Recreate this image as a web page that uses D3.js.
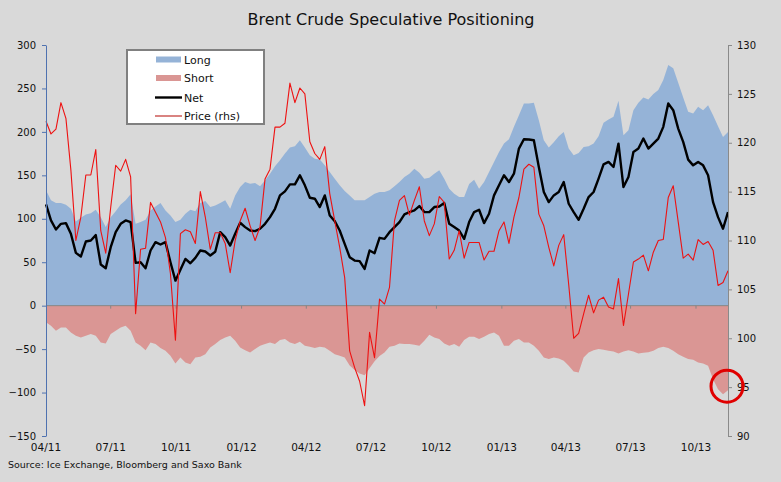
<!DOCTYPE html>
<html>
<head>
<meta charset="utf-8">
<script src="https://cdn.jsdelivr.net/npm/d3@7"></script>
<style>
	body { margin: 0; background: #d9d9d9; }
	svg { display: block; font-family: "DejaVu Sans", Verdana, sans-serif; }
</style>
</head>
<body>
<svg id="chart" width="781" height="482"></svg>
<script>
// weekly COT data, first report date
var startDate = '2011-04-05';

var longPos = [
	132.7, 121.2, 118.1, 118.1, 116.2, 111.5, 97.0, 101.2, 105.0, 106.5, 110.4, 101.9, 90.4, 101.9, 108.8, 116.5, 121.2,
	128.1, 94.2, 96.2, 98.8, 109.6, 114.2, 118.1, 109.6, 103.8, 96.2, 98.8, 105.8, 110.4, 108.8, 118.1, 120.4, 113.5,
	115.4, 118.1, 121.2, 111.5, 126.9, 136.5, 142.3, 140.4, 141.2, 137.3, 144.2, 151.9, 160.4, 167.3, 175.0, 181.9, 183.5,
	190.4, 181.9, 173.1, 169.2, 168.1, 161.5, 153.8, 146.2, 138.5, 131.9, 126.9, 121.2, 121.2, 121.2, 125.0, 128.8, 130.8,
	130.8, 132.7, 137.3, 142.3, 148.1, 151.9, 157.7, 153.0, 146.2, 147.3, 151.9, 155.8, 146.0, 134.6, 128.8, 125.0, 125.0,
	140.0, 145.0, 134.6, 142.3, 153.8, 165.4, 176.9, 186.5, 191.5, 205.8, 219.2, 232.7, 232.7, 233.5, 213.5, 190.4, 181.9,
	188.0, 195.0, 200.0, 180.8, 173.1, 175.8, 182.7, 183.5, 186.5, 195.0, 210.4, 214.2, 217.3, 235.8, 196.2, 201.9, 225.0,
	233.5, 239.6, 237.3, 243.5, 248.1, 259.6, 276.9, 273.1, 256.5, 239.6, 223.1, 221.2, 228.8, 225.0, 230.8, 219.2, 206.5,
	194.2, 200.0
];

var shortPos = [
	-19.2, -23.1, -28.8, -25.0, -25.0, -30.8, -34.6, -36.5, -34.6, -32.7, -34.6, -42.3, -43.5, -32.7, -28.8, -25.0, -23.1,
	-28.8, -42.3, -46.2, -51.2, -42.3, -44.2, -48.8, -51.9, -57.7, -66.5, -59.6, -65.4, -67.3, -59.6, -58.8, -55.8, -48.1,
	-44.2, -39.6, -36.5, -34.6, -40.4, -48.1, -51.2, -53.8, -50.0, -46.2, -44.2, -42.3, -44.2, -39.6, -38.5, -42.3, -44.2,
	-41.5, -46.2, -47.3, -48.8, -47.3, -48.1, -51.9, -55.8, -57.7, -59.6, -69.0, -74.0, -78.0, -80.0, -72.0, -64.0, -58.0,
	-53.8, -47.3, -46.2, -43.5, -44.2, -44.2, -45.0, -46.2, -40.4, -33.5, -36.5, -38.5, -43.5, -46.2, -44.2, -47.3, -39.6,
	-35.8, -35.8, -38.5, -35.8, -32.7, -30.8, -34.6, -46.2, -46.2, -40.4, -38.5, -42.3, -42.3, -46.2, -51.9, -59.6, -61.5,
	-59.6, -60.8, -63.5, -69.2, -75.8, -76.9, -59.6, -53.8, -51.2, -50.0, -50.8, -51.9, -52.7, -55.0, -52.7, -51.2, -52.7,
	-55.0, -54.2, -53.5, -51.9, -48.8, -47.3, -48.8, -51.9, -55.8, -58.8, -61.5, -62.3, -65.4, -66.5, -69.2, -84.6, -96.2,
	-101.9, -97.3
];

var netPos = [
	116.5, 98.1, 87.7, 94.2, 95.0, 82.7, 60.8, 56.5, 73.8, 75.0, 81.2, 47.3, 43.1, 67.3, 84.6, 94.2, 98.1,
	96.2, 49.2, 50.0, 43.1, 63.5, 73.1, 70.4, 73.1, 50.0, 28.8, 41.2, 53.8, 48.8, 55.0, 63.5, 62.3, 57.7,
	62.0, 84.6, 78.8, 69.2, 82.7, 95.4, 90.4, 86.5, 85.8, 88.5, 94.2, 101.9, 111.5, 126.9, 131.5, 139.6, 139.6,
	150.0, 138.5, 124.2, 123.1, 113.5, 126.9, 103.8, 97.3, 86.5, 71.2, 55.8, 51.9, 51.2, 42.3, 63.5, 60.4, 78.1,
	76.9, 84.6, 90.4, 96.2, 105.0, 107.7, 109.6, 114.6, 107.7, 107.7, 113.5, 114.2, 118.1, 94.2, 90.4, 86.5, 76.9,
	96.2, 107.7, 110.4, 95.0, 105.8, 126.9, 138.5, 150.0, 142.3, 151.9, 180.8, 191.5, 191.2, 190.4, 159.6, 130.8, 119.2,
	126.9, 130.8, 142.3, 117.3, 107.7, 98.8, 111.5, 125.0, 130.8, 146.2, 162.7, 165.4, 159.6, 186.5, 136.5, 148.1, 176.9,
	180.8, 192.3, 180.8, 186.5, 192.3, 205.8, 232.7, 225.0, 203.8, 188.5, 168.1, 161.5, 165.4, 161.5, 150.0, 119.2, 101.9,
	88.5, 107.7
];

var price = [
	122.2, 120.9, 121.4, 124.1, 122.5, 117.2, 110.0, 112.4, 116.7, 116.7, 119.3, 111.0, 108.7, 113.4, 117.7, 117.1, 118.3,
	116.5, 102.5, 109.1, 109.2, 113.9, 112.9, 111.9, 110.3, 106.6, 99.8, 110.7, 111.1, 110.9, 109.7, 115.0, 112.4, 109.1,
	110.8, 110.8, 109.7, 106.7, 110.0, 112.0, 113.3, 111.5, 110.0, 111.4, 116.3, 117.3, 121.6, 121.6, 122.0, 126.1, 124.1,
	125.6, 125.0, 120.1, 118.9, 118.3, 119.6, 114.8, 112.0, 109.3, 106.2, 98.7, 97.0, 95.6, 93.1, 100.6, 98.0, 104.0,
	103.5, 105.2, 112.0, 114.1, 114.6, 112.6, 114.1, 115.5, 112.0, 110.5, 111.7, 114.5, 113.9, 108.1, 109.0, 111.0, 108.2,
	109.8, 109.8, 109.8, 108.0, 108.9, 108.9, 111.0, 111.9, 109.7, 112.4, 114.4, 117.3, 117.8, 117.5, 112.7, 111.5, 109.3,
	107.4, 109.5, 110.6, 105.5, 100.0, 100.5, 102.5, 104.4, 102.6, 103.9, 104.2, 103.2, 103.0, 106.1, 101.3, 104.5, 107.8,
	108.1, 108.5, 106.9, 108.8, 110.0, 110.1, 114.4, 115.6, 111.9, 108.2, 108.6, 108.0, 110.1, 109.6, 109.9, 109.0, 105.4,
	105.7, 106.9
];

var tickLabels = ['04/11', '07/11', '10/11', '01/12', '04/12', '07/12', '10/12', '01/13', '04/13', '07/13', '10/13'];
var leftTicks = [-150, -100, -50, 0, 50, 100, 150, 200, 250, 300];
var rightTicks = [90, 95, 100, 105, 110, 115, 120, 125, 130];
var legendLabels = ['Long', 'Short', 'Net', 'Price (rhs)'];

var colors = {
	long: '#95b3d7',
	short: '#da9694',
	net: '#000000',
	price: '#ee1111'
};

var svg = d3.select('#chart');
var plotLeft = 46, plotRight = 728, plotTop = 45, plotBottom = 436;

var t0 = d3.timeParse('%Y-%m-%d')(startDate);
var dates = longPos.map(function (d, i) {
	return d3.timeDay.offset(t0, 7 * i);
});

var x = d3.scaleTime()
	.domain([dates[0], dates[dates.length - 1]])
	.range([plotLeft, plotRight]);
var yL = d3.scaleLinear().domain([-150, 300]).range([plotBottom, plotTop]);
var yR = d3.scaleLinear().domain([90, 130]).range([plotBottom, plotTop]);

// excel puts the quarter ticks on the same day of month as the first point
var parseMY = d3.timeParse('%m/%y');
var tickDates = tickLabels.map(function (s) {
	return d3.timeDay.offset(parseMY(s), t0.getDate() - 1);
});

function xi(d, i) {
	return x(dates[i]);
}

// areas
var areaFrom = d3.area().x(xi).y0(yL(0)).y1(function (d) { return yL(d); });

svg.append('path')
	.attr('d', areaFrom(longPos))
	.attr('fill', colors.long);

svg.append('path')
	.attr('d', areaFrom(shortPos))
	.attr('fill', colors.short);

// zero line with the date ticks hanging off it
svg.append('line')
	.attr('x1', plotLeft).attr('x2', plotRight)
	.attr('y1', yL(0)).attr('y2', yL(0))
	.attr('stroke', '#858585')
	.attr('stroke-width', 1);

svg.selectAll('.qtick')
	.data(tickDates.slice(1))
	.enter()
	.append('line')
	.attr('class', 'qtick')
	.attr('x1', function (d) { return x(d); })
	.attr('x2', function (d) { return x(d); })
	.attr('y1', yL(0))
	.attr('y2', yL(0) + 3)
	.attr('stroke', '#858585');

// lines
var netLine = d3.line().x(xi).y(function (d) { return yL(d); });
var priceLine = d3.line().x(xi).y(function (d) { return yR(d); });

svg.append('path')
	.attr('d', netLine(netPos))
	.attr('fill', 'none')
	.attr('stroke', colors.net)
	.attr('stroke-width', 2.4)
	.attr('stroke-linejoin', 'round');

svg.append('path')
	.attr('d', priceLine(price))
	.attr('fill', 'none')
	.attr('stroke', colors.price)
	.attr('stroke-width', 1.1)
	.attr('stroke-linejoin', 'round');

// axes
var gLeft = svg.append('g')
	.attr('transform', 'translate(' + plotLeft + ',0)')
	.call(d3.axisLeft(yL).tickValues(leftTicks).tickSize(4).tickSizeOuter(0).tickPadding(6));
gLeft.select('.domain').attr('stroke', '#4f72b0');
gLeft.selectAll('.tick line').attr('stroke', '#4f72b0');

var gRight = svg.append('g')
	.attr('transform', 'translate(' + plotRight + ',0)')
	.call(d3.axisRight(yR).tickValues(rightTicks).tickSize(4).tickSizeOuter(0).tickPadding(5));
gRight.select('.domain').attr('stroke', '#8a8a8a');
gRight.selectAll('.tick line').attr('stroke', '#8a8a8a');

svg.selectAll('.tick text')
	.attr('fill', '#111')
	.style('font-size', '10px')
	.style('font-family', '"DejaVu Sans", Verdana, sans-serif');

svg.selectAll('.xlabel')
	.data(tickDates)
	.enter()
	.append('text')
	.attr('class', 'xlabel')
	.attr('x', function (d) { return x(d); })
	.attr('y', 451)
	.attr('text-anchor', 'middle')
	.attr('fill', '#111')
	.style('font-size', '10.5px')
	.text(function (d, i) { return tickLabels[i]; });

// title and source
svg.append('text')
	.attr('x', 391)
	.attr('y', 25)
	.attr('text-anchor', 'middle')
	.attr('fill', '#111')
	.style('font-size', '16px')
	.text('Brent Crude Speculative Positioning');

svg.append('text')
	.attr('x', 8)
	.attr('y', 468)
	.attr('fill', '#111')
	.style('font-size', '9.5px')
	.text('Source: Ice Exchange, Bloomberg and Saxo Bank');

// legend
var legend = svg.append('g').attr('transform', 'translate(127,50)');
legend.append('rect')
	.attr('width', 137)
	.attr('height', 74)
	.attr('fill', '#fff')
	.attr('stroke', '#808080')
	.attr('stroke-width', 2);

var rowY = [9.5, 28, 47.5, 66];
legendLabels.forEach(function (label, i) {
	var row = legend.append('g').attr('transform', 'translate(0,' + rowY[i] + ')');
	if (i < 2) {
		row.append('rect')
			.attr('x', 29).attr('y', -3)
			.attr('width', 25).attr('height', 6)
			.attr('fill', i === 0 ? colors.long : colors.short);
	} else {
		row.append('line')
			.attr('x1', 28).attr('x2', 55)
			.attr('y1', 0).attr('y2', 0)
			.attr('stroke', i === 2 ? colors.net : '#c0302c')
			.attr('stroke-width', i === 2 ? 2.4 : 1.2);
	}
	row.append('text')
		.attr('x', 57)
		.attr('y', 4)
		.attr('fill', '#111')
		.style('font-size', '11px')
		.text(label);
});

// highlight circle round the latest short reading
var last = dates.length - 1;
svg.append('circle')
	.attr('cx', x(dates[last]) - 1)
	.attr('cy', yL(shortPos[last]) - 4)
	.attr('r', 16)
	.attr('fill', 'none')
	.attr('stroke', '#e00000')
	.attr('stroke-width', 3);
</script>
</body>
</html>
